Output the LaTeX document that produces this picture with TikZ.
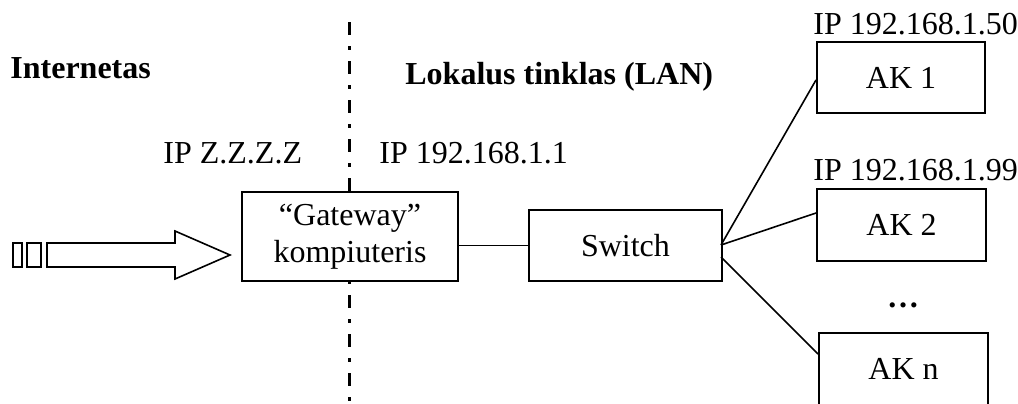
\documentclass[tikz,border=0pt]{standalone}
\usepackage{fontspec}
\setmainfont{Liberation Serif}
\begin{document}
\begin{tikzpicture}[x=0.5pt,y=-0.5pt,
  every node/.style={font=\fontsize{16}{18.5}\selectfont, inner sep=0pt},
  box/.style={draw, line width=1pt, align=center},
  lbl/.style={anchor=base west},
  blbl/.style={anchor=base west, font=\fontsize{16}{18.5}\selectfont\bfseries},
  link/.style={line width=0.8pt},
  divider/.style={line width=1.5pt, dash pattern=on 6.5pt off 5.5pt on 2pt off 5.5pt},
  blockarrow/.style={draw, line width=0.8pt}]
\useasboundingbox (0,0) rectangle (1018,403);
% divider
\coordinate (dtop) at (349,22);
\coordinate (dbot) at (349,410);
\draw[divider] (dtop) -- (dbot);
% boxes
\node[box, fill=white, minimum width=108pt, minimum height=44.5pt] (gw) at (350,236.5) {“Gateway”\\kompiuteris};
\node[box, minimum width=96.5pt, minimum height=35.5pt] (sw) at (625.5,245.5) {Switch};
\node[box, minimum width=84pt, minimum height=35.5pt] (ak1) at (901,77.5) {AK 1};
\node[box, minimum width=84.5pt, minimum height=36pt] (ak2) at (901.5,225) {AK 2};
\node[box, minimum width=84.5pt, minimum height=36pt] (akn) at (903.5,369) {AK n};
% labels
\node[blbl] (inet) at (10,78) {Internetas};
\node[blbl] (lan) at (405,84) {Lokalus tinklas (LAN)};
\node[lbl] (ipz) at (163,163) {IP Z.Z.Z.Z};
\node[lbl] (ipgw) at (379,163) {IP 192.168.1.1};
\node[lbl] (ip50) at (813,34) {IP 192.168.1.50};
\node[lbl] (ip99) at (813,180) {IP 192.168.1.99};
\node (dots) at (903,305) {\bfseries …};
% connectors
\coordinate (swa) at (721,245);
\coordinate (swb) at (721,257);
\draw[link] (gw.east |- sw.west) -- (sw.west);
\draw[link] (swa) -- (ak1.west |- 0,80);
\draw[link] (swa) -- (ak2.west |- 0,213);
\draw[link] (swb) -- (akn.west |- 0,354);
% block arrow
\draw[blockarrow] (47,243) -- (175,243) -- (175,231) -- (230,255) -- (175,279) -- (175,267) -- (47,267) -- cycle;
\draw[blockarrow] (13,243) rectangle (22,267);
\draw[blockarrow] (27,243) rectangle (41,267);
\end{tikzpicture}
\end{document}
